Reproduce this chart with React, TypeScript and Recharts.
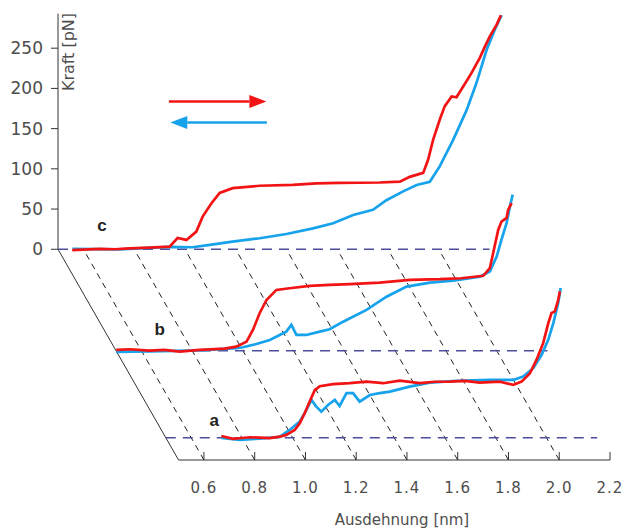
import React from 'react';
import { ComposedChart, Line, XAxis, YAxis, ReferenceLine, ReferenceDot } from 'recharts';

// [extension nm, force pN] pairs, each read in the plane of its own trace
const aStretch: [number, number][] = [
  [0.719, 2], [0.765, -1.5], [0.791, -0.7], [0.83, 0.5], [0.87, 0], [0.91, -0.5], [0.949, 1.2],
  [0.975, 3.4], [1.008, 9.6], [1.028, 18], [1.047, 30], [1.067, 45], [1.087, 59], [1.107, 64],
  [1.159, 66.5], [1.225, 67.7], [1.291, 69.7], [1.356, 67.7], [1.422, 71], [1.501, 67.7],
  [1.56, 69.5], [1.619, 69.7], [1.68, 70.5], [1.737, 68.4], [1.816, 69.7], [1.869, 65.6],
  [1.902, 69.7], [1.935, 80], [1.961, 97], [1.987, 117.5], [2.007, 142], [2.02, 155],
  [2.033, 157], [2.046, 171], [2.053, 182],
];
const aRelax: [number, number][] = [
  [0.719, -0.4], [0.791, -2.9], [0.87, -1.2], [0.949, 0.9], [0.988, 9.6], [1.028, 20],
  [1.054, 34.5], [1.074, 47], [1.093, 38.6], [1.113, 32.4], [1.139, 40.7], [1.166, 47],
  [1.185, 39.4], [1.212, 55.3], [1.238, 55.3], [1.264, 44.8], [1.304, 53], [1.343, 55.3],
  [1.383, 57.2], [1.461, 63.5], [1.54, 68.4], [1.646, 70.6], [1.777, 71.8], [1.869, 71.8],
  [1.908, 76], [1.948, 86.4], [1.981, 103], [2.007, 121.6], [2.027, 142.4], [2.046, 167],
  [2.056, 186],
];
const bStretch: [number, number][] = [
  [0.501, 0.9], [0.554, 1.7], [0.632, 0], [0.69, 1], [0.751, -1.2], [0.83, 0.9], [0.928, 2.5],
  [0.974, 5], [1.014, 11], [1.04, 26], [1.066, 46.5], [1.093, 63], [1.132, 75.5], [1.184, 77.6],
  [1.263, 80.5], [1.342, 81.8], [1.421, 82.6], [1.539, 84.6], [1.658, 88], [1.776, 88.8],
  [1.86, 90], [1.947, 93], [1.973, 102.5], [1.986, 121], [2.006, 150], [2.019, 160.5],
  [2.039, 165], [2.045, 175], [2.059, 183.4],
];
const bRelax: [number, number][] = [
  [0.501, -1.6], [0.632, -1], [0.83, 0.2], [0.974, 3], [1.0, 4.2], [1.053, 8.3], [1.106, 13.3],
  [1.145, 19.5], [1.171, 23.6], [1.191, 32], [1.211, 19.5], [1.25, 19.5], [1.303, 23.6],
  [1.342, 26.6], [1.395, 36], [1.487, 50.6], [1.566, 67], [1.645, 79.6], [1.737, 84.6],
  [1.828, 87], [1.934, 92], [1.973, 98.3], [2.0, 117], [2.019, 138], [2.039, 158.5],
  [2.052, 179], [2.063, 194],
];
const cStretch: [number, number][] = [
  [0.556, -1], [0.664, 0.4], [0.723, 0], [0.782, 1], [0.86, 2], [0.94, 3.2], [0.971, 14],
  [1.006, 11.6], [1.045, 22], [1.07, 40.6], [1.104, 57], [1.137, 70], [1.188, 76], [1.295, 79],
  [1.425, 80], [1.518, 82], [1.61, 82.5], [1.768, 83], [1.847, 84], [1.886, 90], [1.939, 95],
  [1.958, 111], [1.978, 136], [2.004, 161], [2.024, 178], [2.051, 190], [2.07, 189],
  [2.096, 202], [2.129, 219], [2.162, 238], [2.182, 252], [2.202, 265], [2.228, 279],
  [2.245, 291],
];
const cRelax: [number, number][] = [
  [0.557, 0.4], [0.743, -0.2], [0.94, 2.9], [1.03, 2.5], [1.098, 5.4], [1.188, 9.5],
  [1.295, 13.7], [1.4, 19], [1.505, 26], [1.584, 32.4], [1.663, 42.7], [1.741, 49],
  [1.794, 61], [1.86, 72], [1.913, 80], [1.965, 84], [2.004, 103], [2.057, 136], [2.11, 173],
  [2.149, 207], [2.189, 248], [2.221, 273], [2.248, 291],
];

const X_TICKS = [0.6, 0.8, 1.0, 1.2, 1.4, 1.6, 1.8, 2.0, 2.2];
const Y_TICKS = [0, 50, 100, 150, 200, 250];
const GRID_EXT = [0.6, 0.8, 1.0, 1.2, 1.4, 1.6, 1.8, 2.0];
const EXT_RANGE = [0.5, 2.2];
const FORCE_TOP = 293;

// oblique projection: a plane at depth 1 is shifted left and up
const DEPTH_NM = 0.475;
const DEPTH_PN = 262;

const RED = '#f21414';
const BLUE = '#17a2ec';
const AXIS = '#333';
const TEXT = '#4d4d4d';

const traces = [
  { key: 'a', depth: 0.106, stretch: aStretch, relax: aRelax, label: [0.672, 14] },
  { key: 'b', depth: 0.519, stretch: bStretch, relax: bRelax, label: [0.652, 19] },
  { key: 'c', depth: 1, stretch: cStretch, relax: cRelax, label: [0.655, 23] },
];

const px = (e: number, t: number) => e - t * DEPTH_NM;
const py = (f: number, t: number) => f - (1 - t) * DEPTH_PN;
const project = (pts: [number, number][], t: number) =>
  pts.map(([e, f]) => ({ x: px(e, t), y: py(f, t) }));

const ExtTick = ({ x, y, payload }: any) => (
  <g>
    <line x1={x} y1={y - 8} x2={x} y2={y} stroke={AXIS} />
    <text x={x} y={y + 33} textAnchor="middle" fill={TEXT} fontSize={15} letterSpacing={1}>
      {Number(payload.value).toFixed(1)}
    </text>
  </g>
);

const arrowShape = (color: string) => (props: any) => {
  const { x1, y1, x2, y2 } = props;
  const dir = Math.sign(x2 - x1);
  const head = 17;
  return (
    <g>
      <line x1={x1} y1={y1} x2={x2 - dir * head} y2={y2} stroke={color} strokeWidth={2.5} />
      <polygon
        points={`${x2},${y2} ${x2 - dir * head},${y2 - 6.5} ${x2 - dir * head},${y2 + 6.5}`}
        fill={color}
      />
    </g>
  );
};

export default function App() {
  return (
    <div style={{ position: 'absolute', left: 0, top: 0 }}>
      <ComposedChart
        width={627}
        height={531}
        margin={{ top: 12, right: 17, bottom: 41, left: 0 }}
        style={{ fontFamily: '"DejaVu Sans", sans-serif' }}
      >
        <XAxis
          type="number"
          dataKey="x"
          domain={[EXT_RANGE[0] - DEPTH_NM, EXT_RANGE[1]]}
          allowDataOverflow
          ticks={X_TICKS}
          axisLine={false}
          tickLine={false}
          tickSize={0}
          tickMargin={0}
          height={30}
          tick={<ExtTick />}
          label={(p: any) => (
            <text x={p.viewBox.x + 344} y={p.viewBox.y + 65} textAnchor="middle" fill={TEXT} fontSize={15}>
              Ausdehnung [nm]
            </text>
          )}
        />
        <YAxis
          type="number"
          domain={[-DEPTH_PN, 295]}
          allowDataOverflow
          ticks={Y_TICKS}
          width={58}
          axisLine={false}
          tickSize={7}
          tickMargin={8}
          stroke={AXIS}
          tick={{ fill: TEXT, fontSize: 17 }}
          label={(p: any) => (
            <text
              x={p.viewBox.x + p.viewBox.width + 16}
              y={p.viewBox.y + 40}
              transform={`rotate(-90 ${p.viewBox.x + p.viewBox.width + 16} ${p.viewBox.y + 40})`}
              textAnchor="middle"
              fill={TEXT}
              fontSize={16}
            >
              Kraft [pN]
            </text>
          )}
        />

        {/* axes frame */}
        <ReferenceLine
          segment={[{ x: px(EXT_RANGE[0], 1), y: 0 }, { x: px(EXT_RANGE[0], 1), y: FORCE_TOP }]}
          stroke={AXIS}
          ifOverflow="visible"
          zIndex={0}
        />
        <ReferenceLine
          segment={[{ x: EXT_RANGE[0], y: -DEPTH_PN }, { x: EXT_RANGE[1], y: -DEPTH_PN }]}
          stroke={AXIS}
          ifOverflow="visible"
          zIndex={0}
        />
        <ReferenceLine
          segment={[{ x: EXT_RANGE[0], y: -DEPTH_PN }, { x: px(EXT_RANGE[0], 1), y: 0 }]}
          stroke={AXIS}
          ifOverflow="visible"
          zIndex={0}
        />
        {GRID_EXT.map((e) => (
          <ReferenceLine
            key={`g${e}`}
            segment={[{ x: e, y: -DEPTH_PN }, { x: px(e, 1), y: 0 }]}
            stroke="#222"
            strokeDasharray="6 5"
            ifOverflow="visible"
            zIndex={0}
          />
        ))}
        {traces.map((tr) => (
          <ReferenceLine
            key={`base${tr.key}`}
            segment={[
              { x: px(EXT_RANGE[0], tr.depth), y: py(0, tr.depth) },
              { x: px(EXT_RANGE[1], tr.depth), y: py(0, tr.depth) },
            ]}
            stroke="#4d4d9e"
            strokeWidth={1.5}
            strokeDasharray="10 7"
            ifOverflow="visible"
            zIndex={0}
          />
        ))}

        {traces.flatMap((tr) => [
          <Line
            key={`${tr.key}-relax`}
            data={project(tr.relax, tr.depth)}
            dataKey="y"
            stroke={BLUE}
            strokeWidth={2.7}
            dot={false}
            isAnimationActive={false}
          />,
          <Line
            key={`${tr.key}-stretch`}
            data={project(tr.stretch, tr.depth)}
            dataKey="y"
            stroke={RED}
            strokeWidth={2.7}
            dot={false}
            isAnimationActive={false}
          />,
        ])}

        {traces.map((tr) => (
          <ReferenceDot
            key={`lbl${tr.key}`}
            x={px(tr.label[0], tr.depth)}
            y={py(tr.label[1], tr.depth)}
            ifOverflow="visible"
            shape={(p: any) => (
              <text x={p.cx} y={p.cy} fontFamily='"Liberation Sans", Arial, sans-serif' fontWeight="bold" fontSize={17} fill="#222">
                {tr.key}
              </text>
            )}
          />
        ))}

        {/* direction arrows */}
        <ReferenceLine
          segment={[{ x: 0.462, y: 183.7 }, { x: 0.846, y: 183.7 }]}
          shape={arrowShape(RED)}
          ifOverflow="visible"
        />
        <ReferenceLine
          segment={[{ x: 0.848, y: 157.5 }, { x: 0.4675, y: 157.5 }]}
          shape={arrowShape(BLUE)}
          ifOverflow="visible"
        />
      </ComposedChart>
    </div>
  );
}
